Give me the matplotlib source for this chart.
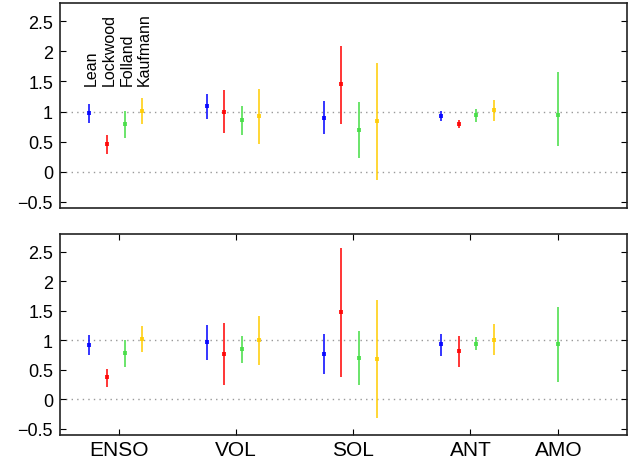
import numpy as np
import matplotlib.pyplot as plt

# -------------------------------
# Données
# -------------------------------
forcings = ['ENSO', 'VOL', 'SOL', 'ANT', 'AMO']
xpos = [1, 2, 3, 4, 4.75]
models = ['Lean', 'Lockwood', 'Folland', 'Kaufmann']
colors = ['#0000ff', '#ff0000', '#44dd44', '#ffcc00']
offsets = [-0.25, -0.1, 0.05, 0.2]

# panneau du haut : valeur centrale, borne basse, borne haute (ENSO, VOL, SOL, ANT)
top_mid = {
    'Lean':     [0.97, 1.09, 0.90, 0.93],
    'Lockwood': [0.46, 1.00, 1.45, 0.80],
    'Folland':  [0.79, 0.86, 0.70, 0.94],
    'Kaufmann': [1.01, 0.92, 0.84, 1.02],
}
top_lo = {
    'Lean':     [0.81, 0.87, 0.62, 0.85],
    'Lockwood': [0.29, 0.64, 0.79, 0.73],
    'Folland':  [0.56, 0.61, 0.23, 0.82],
    'Kaufmann': [0.79, 0.46, -0.13, 0.84],
}
top_hi = {
    'Lean':     [1.12, 1.30, 1.18, 1.01],
    'Lockwood': [0.61, 1.36, 2.09, 0.86],
    'Folland':  [1.01, 1.09, 1.16, 1.05],
    'Kaufmann': [1.23, 1.38, 1.81, 1.20],
}
top_amo = [0.94, 0.43, 1.66]   # Folland seulement

# panneau du bas
bot_mid = {
    'Lean':     [0.92, 0.97, 0.77, 0.93],
    'Lockwood': [0.37, 0.77, 1.48, 0.81],
    'Folland':  [0.78, 0.86, 0.70, 0.93],
    'Kaufmann': [1.02, 1.00, 0.68, 1.01],
}
bot_lo = {
    'Lean':     [0.75, 0.67, 0.43, 0.73],
    'Lockwood': [0.21, 0.24, 0.38, 0.54],
    'Folland':  [0.55, 0.61, 0.25, 0.83],
    'Kaufmann': [0.80, 0.58, -0.31, 0.75],
}
bot_hi = {
    'Lean':     [1.09, 1.26, 1.11, 1.11],
    'Lockwood': [0.51, 1.30, 2.57, 1.08],
    'Folland':  [1.01, 1.08, 1.16, 1.05],
    'Kaufmann': [1.25, 1.41, 1.68, 1.28],
}
bot_amo = [0.93, 0.30, 1.56]

yticks = [-0.5, 0, 0.5, 1, 1.5, 2, 2.5]
yticklabels = ['\u22120.5', '0', '0.5', '1', '1.5', '2', '2.5']

plt.rcParams['font.family'] = ['Liberation Sans', 'DejaVu Sans']

fig = plt.figure(figsize=(6.35, 4.64), dpi=100)
ax1 = fig.add_axes([0.0945, 0.5496, 0.8925, 0.4414])
ax2 = fig.add_axes([0.0945, 0.061, 0.8925, 0.4325])


def draw_panel(ax, mid, lo, hi, amo):
    for y0 in [0, 1]:
        ax.axhline(y0, color='#999999', linestyle=(0, (1, 3)), linewidth=1.0, zorder=1)
    for m, c, off in zip(models, colors, offsets):
        x = np.array(xpos[:4]) + off
        y = np.array(mid[m])
        err = [y - np.array(lo[m]), np.array(hi[m]) - y]
        ax.errorbar(x, y, yerr=err, fmt='s', color=c, ms=2.6, mew=0,
                    elinewidth=1.3, capsize=0, alpha=0.85, zorder=3)
    y = amo[0]
    ax.errorbar([xpos[4]], [y], yerr=[[y - amo[1]], [amo[2] - y]], fmt='s',
                color=colors[2], ms=2.6, mew=0, elinewidth=1.3, capsize=0,
                alpha=0.85, zorder=3)
    ax.set_xlim(0.5, 5.333)
    ax.set_ylim(-0.6, 2.8)
    ax.set_yticks(yticks)
    ax.set_yticklabels(yticklabels, fontsize=13)
    ax.tick_params(axis='y', direction='in', right=True, length=4, width=0.8, pad=5)
    for s in ax.spines.values():
        s.set_linewidth(1.2)
        s.set_color('#222222')


draw_panel(ax1, top_mid, top_lo, top_hi, top_amo)
draw_panel(ax2, bot_mid, bot_lo, bot_hi, bot_amo)

ax1.set_xticks([])
ax2.set_xticks(xpos)
ax2.set_xticklabels(forcings, fontsize=15)
ax2.tick_params(axis='x', direction='in', top=True, length=4, width=0.8, pad=4)

# étiquettes des modèles
for m, off in zip(models, offsets):
    ax1.text(xpos[0] + off + 0.02, 1.44, m, rotation=90, ha='center', va='bottom',
             fontsize=11.5)

fig.savefig('out.png', dpi=100)
